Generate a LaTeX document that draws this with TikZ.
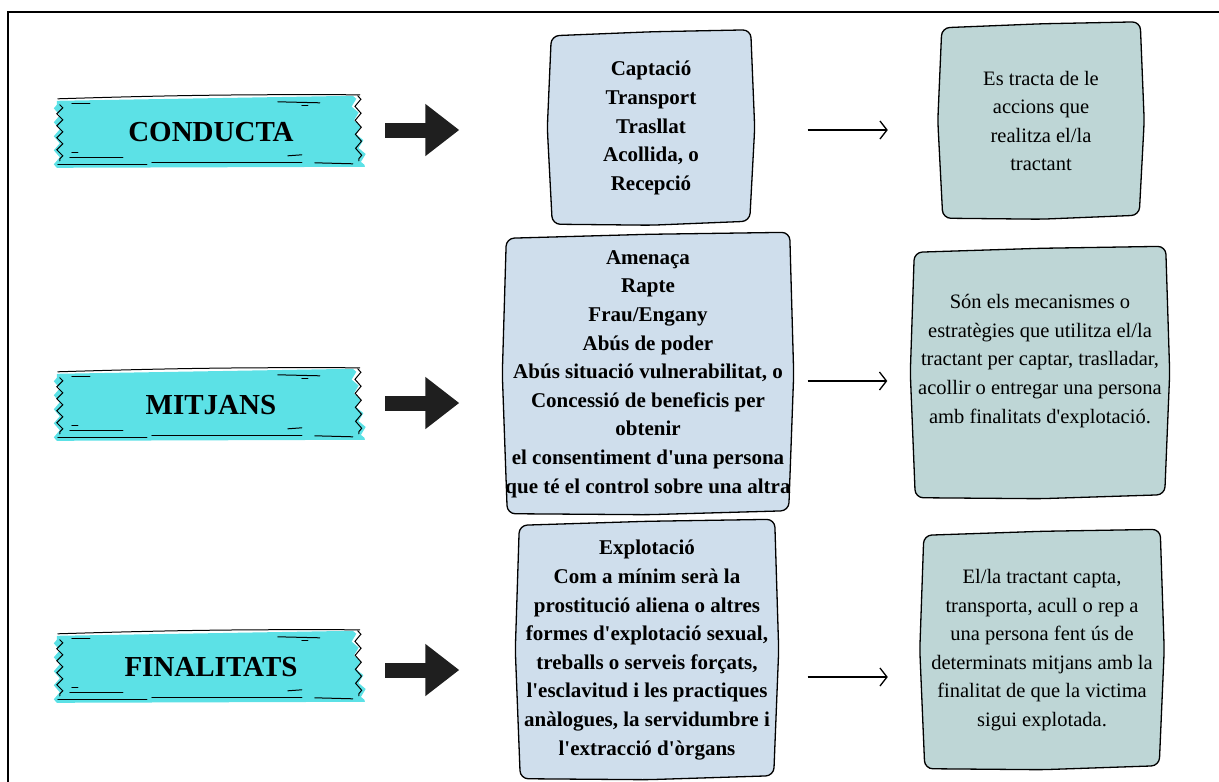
\documentclass[tikz,border=0pt]{standalone}
\usepackage{fontspec}
\setmainfont{Liberation Serif}
\usetikzlibrary{arrows.meta,backgrounds,decorations.pathmorphing}

\definecolor{tapecyan}{HTML}{5CE1E6}
\definecolor{midblue}{HTML}{CFDEEC}
\definecolor{sidegreen}{HTML}{BED6D6}

\newcommand{\apos}{\textquotesingle}

% wobbly outline behind a node
\newcommand{\sketchbox}[2]{%
  \begin{pgfonlayer}{background}
    \draw[sketchline,fill=#2,rounded corners=8pt]
      ([shift={(2,3)}]#1.north west) -- ([shift={(0,-1)}]#1.north)
      -- ([shift={(-2,-3)}]#1.north east) -- ([shift={(2,0)}]#1.east)
      -- ([shift={(-3,-2)}]#1.south east) -- ([shift={(0,2)}]#1.south)
      -- ([shift={(3,1)}]#1.south west) -- ([shift={(-2,0)}]#1.west) -- cycle;
  \end{pgfonlayer}}

% torn tape behind a label
\newcommand{\tape}[1]{%
  \begin{pgfonlayer}{background}
    \fill[tapecyan] ([shift={(-2,2)}]#1.north west) -- ([shift={(294,-3)}]#1.north west)
      decorate[decoration={zigzag,amplitude=3pt,segment length=14pt}]{-- ([shift={(306,68)}]#1.north west)}
      -- ([shift={(-2,69)}]#1.north west)
      decorate[decoration={zigzag,amplitude=3pt,segment length=14pt}]{-- ([shift={(-2,2)}]#1.north west)} -- cycle;
  \end{pgfonlayer}
  \draw[tapeline] ([shift={(-1,0)}]#1.north west) to[bend left=1] ([shift={(301,-4)}]#1.north west);
  \draw[tapeline] ([shift={(13,5)}]#1.north west) -- ([shift={(31,5)}]#1.north west);
  \draw[tapeline] ([shift={(219,3)}]#1.north west) -- ([shift={(261,4)}]#1.north west);
  \draw[tapeline] ([shift={(243,7)}]#1.north west) -- ([shift={(249,7)}]#1.north west);
  \draw[tapeline] ([shift={(-1,66)}]#1.north west) -- ([shift={(88,66)}]#1.north west);
  \draw[tapeline] ([shift={(93,64)}]#1.north west) -- ([shift={(243,64)}]#1.north west);
  \draw[tapeline] ([shift={(256,64)}]#1.north west) -- ([shift={(294,65)}]#1.north west);
  \draw[tapeline] ([shift={(13,54)}]#1.north west) -- ([shift={(19,54)}]#1.north west);
  \draw[tapeline] ([shift={(11,59)}]#1.north west) -- ([shift={(64,59)}]#1.north west);
  \draw[tapeline] ([shift={(229,57)}]#1.north west) -- ([shift={(243,56)}]#1.north west);
  \draw[tapeline,decorate,decoration={zigzag,amplitude=3pt,segment length=12pt}]
    ([shift={(1,6)}]#1.north west) -- ([shift={(1,62)}]#1.north west);
  \draw[tapeline,decorate,decoration={zigzag,amplitude=3pt,segment length=14pt}]
    ([shift={(299,-3)}]#1.north west) -- ([shift={(300,62)}]#1.north west);
}

\begin{document}
\begin{tikzpicture}[x=1pt,y=-1pt,
    sketchline/.style={line width=1.3pt,black},
    tapeline/.style={line width=1pt,black,line cap=round},
    tapelabel/.style={minimum width=304pt,minimum height=66pt,inner sep=0pt,
      font=\fontsize{29}{34}\selectfont\bfseries},
    midbox/.style={align=center,inner sep=0pt,
      font=\fontsize{21}{28.6}\selectfont\bfseries},
    sidebox/.style={align=center,inner sep=0pt,
      font=\fontsize{20.5}{28.6}\selectfont},
    fatarrow/.style={line width=15pt,black!88,-{Triangle[length=34pt,width=50pt]}},
    thinarrow/.style={line width=1.3pt,black,-{Straight Barb[length=7pt,width=18pt]}}]

  \useasboundingbox (0,0) rectangle (1219,782);
  \draw[line width=2.5pt] (8,782) -- (8,12) -- (1219,12);

  % the labels
  \node[tapelabel] (t1) at (211,132) {CONDUCTA};
  \node[tapelabel] (t2) at (211,405) {MITJANS};
  \node[tapelabel] (t3) at (211,667) {FINALITATS};
  \tape{t1}
  \tape{t2}
  \tape{t3}

  % the middle boxes
  \node[midbox,minimum width=203pt,minimum height=190pt] (m1) at (651,128)
    {Captació\\Transport\\Trasllat\\Acollida, o\\Recepció};
  \node[midbox,minimum width=287pt,minimum height=277pt] (m2) at (648,374)
    {Amenaça\\Rapte\\Frau/Engany\\Abús de poder\\Abús situació vulnerabilitat, o\\
     Concessió de beneficis per\\obtenir\\el consentiment d\apos una persona\\
     que té el control sobre una altra};
  \node[midbox,minimum width=259pt,minimum height=255pt] (m3) at (647,650)
    {Explotació\\Com a mínim serà la\\prostitució aliena o altres\\
     formes d\apos explotació sexual,\\treballs o serveis forçats,\\
     l\apos esclavitud i les practiques\\anàlogues, la servidumbre i\\l\apos extracció d\apos òrgans};
  \sketchbox{m1}{midblue}
  \sketchbox{m2}{midblue}
  \sketchbox{m3}{midblue}

  % the descriptions
  \node[sidebox,minimum width=202pt,minimum height=192pt] (r1) at (1041,121)
    {Es tracta de le\\accions que\\realitza el/la\\tractant};
  \node[sidebox,minimum width=255pt,minimum height=247pt] (r2) at (1040,373)
    {Són els mecanismes o\\estratègies que utilitza el/la\\tractant per captar, traslladar,\\
     acollir o entregar una persona\\amb finalitats d\apos explotació.\\\mbox{}};
  \node[sidebox,minimum width=240pt,minimum height=235pt] (r3) at (1042,650)
    {El/la tractant capta,\\transporta, acull o rep a\\una persona fent ús de\\
     determinats mitjans amb la\\finalitat de que la victima\\sigui explotada.};
  \sketchbox{r1}{sidegreen}
  \sketchbox{r2}{sidegreen}
  \sketchbox{r3}{sidegreen}

  % arrows
  \coordinate (f1) at (0,130);
  \coordinate (f2) at (0,403);
  \coordinate (f3) at (0,670);
  \draw[fatarrow,shorten <=22pt,shorten >=90pt] (t1.east |- f1) -- (m1.west |- f1);
  \draw[fatarrow,shorten <=22pt,shorten >=45pt] (t2.east |- f2) -- (m2.west |- f2);
  \draw[fatarrow,shorten <=22pt,shorten >=58pt] (t3.east |- f3) -- (m3.west |- f3);

  \coordinate (a1) at (0,130);
  \coordinate (a2) at (0,381);
  \coordinate (a3) at (0,677);
  \draw[thinarrow,shorten <=55pt,shorten >=52pt] (m1.east |- a1) -- (r1.west |- a1);
  \draw[thinarrow,shorten <=16pt,shorten >=25pt] (m2.east |- a2) -- (r2.west |- a2);
  \draw[thinarrow,shorten <=31pt,shorten >=34pt] (m3.east |- a3) -- (r3.west |- a3);

\end{tikzpicture}
\end{document}
